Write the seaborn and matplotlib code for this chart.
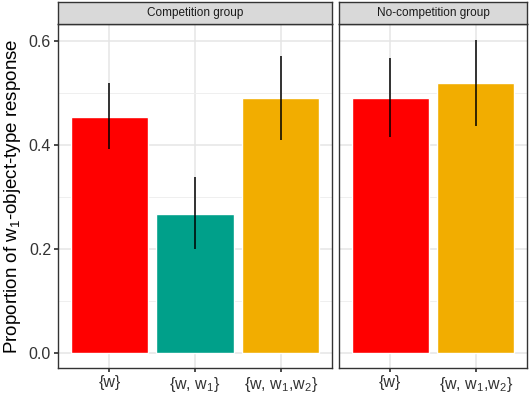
import matplotlib
matplotlib.use("Agg")
import matplotlib.pyplot as plt
import seaborn as sns
import pandas as pd
from matplotlib.ticker import MultipleLocator

sns.set_theme(style="white")
plt.rcParams['font.family'] = ['Liberation Sans', 'DejaVu Sans']
plt.rcParams['mathtext.fontset'] = 'custom'
plt.rcParams['mathtext.rm'] = 'Liberation Sans'
plt.rcParams['mathtext.it'] = 'Liberation Sans'

panels = ["Competition group", "No-competition group"]
comp_cats = ["{w}", "{w, w$_1$}", "{w, w$_1$,w$_2$}"]
comp_vals = [0.454, 0.268, 0.490]
comp_lo = [0.392, 0.200, 0.410]
comp_hi = [0.520, 0.339, 0.571]
comp_cols = ["#FF0000", "#00A08A", "#F2AD00"]

nocomp_cats = ["{w}", "{w, w$_1$,w$_2$}"]
nocomp_vals = [0.490, 0.519]
nocomp_lo = [0.416, 0.437]
nocomp_hi = [0.567, 0.602]
nocomp_cols = ["#FF0000", "#F2AD00"]

W, H = 529, 393
fig = plt.figure(figsize=(W / 100, H / 100), dpi=100)

def fx(px):
    return px / W

def fy(py):
    return 1 - py / H

specs = [
    (58, 332, comp_cats, comp_vals, comp_lo, comp_hi, comp_cols, panels[0]),
    (339, 527, nocomp_cats, nocomp_vals, nocomp_lo, nocomp_hi, nocomp_cols, panels[1]),
]
top_px, bot_px, strip_top = 24, 368, 2

for i, (x0, x1, cats, vals, lo, hi, cols, title) in enumerate(specs):
    ax = fig.add_axes([fx(x0), fy(bot_px), fx(x1 - x0), fy(top_px) - fy(bot_px)])
    df = pd.DataFrame({"cat": cats, "val": vals})
    sns.barplot(data=df, x="cat", y="val", hue="cat", palette=cols, legend=False,
                width=0.9, ax=ax, saturation=1, zorder=2)
    pos = list(range(len(cats)))
    ax.vlines(pos, lo, hi, colors="black", linewidth=1.1, zorder=3)
    ax.set_xlim(-0.6, len(cats) - 0.4)
    ax.set_ylim(-0.029, 0.633)
    ax.yaxis.set_major_locator(MultipleLocator(0.2))
    ax.yaxis.set_minor_locator(MultipleLocator(0.1))
    ax.grid(which="major", color="#E5E5E5", linewidth=1.1, zorder=0)
    ax.grid(which="minor", axis="y", color="#EFEFEF", linewidth=0.7, zorder=0)
    ax.set_axisbelow(True)
    for s in ax.spines.values():
        s.set_color("#333333")
        s.set_linewidth(1.0)
    ax.set_xlabel("")
    ax.tick_params(axis="x", length=3, color="#333333", labelsize=11.5,
                   labelcolor="#333333", pad=2, bottom=True)
    ax.tick_params(axis="y", which="minor", length=0, left=False)
    if i == 0:
        ax.set_yticks([0.0, 0.2, 0.4, 0.6])
        ax.set_yticklabels(["0.0", "0.2", "0.4", "0.6"])
        ax.tick_params(axis="y", which="major", length=3, color="#333333", labelsize=11.5,
                       labelcolor="#333333", pad=2, left=True)
        ax.set_ylabel("Proportion of w$_1$-object-type response", fontsize=13.5,
                      color="black", labelpad=4)
    else:
        ax.tick_params(axis="y", which="major", length=0, labelleft=False)
        ax.set_ylabel("")

    sax = fig.add_axes([fx(x0), fy(top_px), fx(x1 - x0), fy(strip_top) - fy(top_px)])
    sax.set_facecolor("#D9D9D9")
    sax.set_xticks([])
    sax.set_yticks([])
    for s in sax.spines.values():
        s.set_color("#333333")
        s.set_linewidth(1.0)
    sax.text(0.5, 0.5, title, ha="center", va="center", fontsize=8.5,
             color="#1A1A1A", transform=sax.transAxes)

fig.savefig("out.png", dpi=100)
